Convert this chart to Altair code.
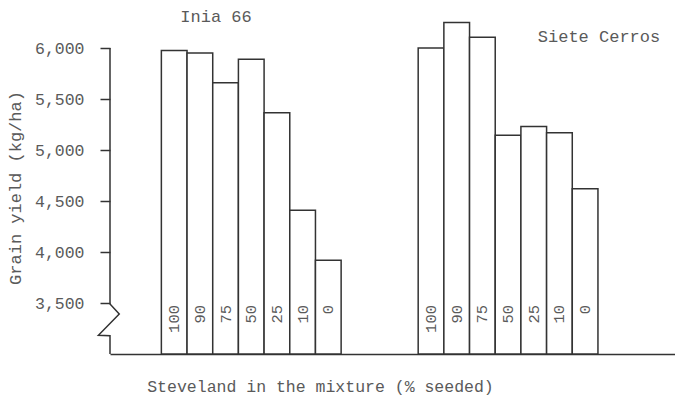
import altair as alt
import pandas as pd

# Grain yield (kg/ha) of two wheat varieties seeded in mixture with Steveland
varieties = ["Inia 66", "Siete Cerros"]
steveland_pct = ["100", "90", "75", "50", "25", "10", "0"]
inia_yield = [5975, 5950, 5660, 5890, 5365, 4410, 3920]
siete_yield = [6000, 6250, 6105, 5145, 5230, 5170, 4620]

# where each variety's block of bars starts on the slot axis (22 slots total)
group_start = [2, 12]
n_slots = 22

y_min, y_max = 3000, 6000
y_ticks = [3500, 4000, 4500, 5000, 5500, 6000]
label_anchor = 3500

# variety captions: name, slot position, yield level
caption_slot = [4.13, 19.04]
caption_level = [6304, 6111]

# broken y-axis: (slot, yield) vertices of the axis line with its zigzag
axis_x = [0, 0, 0.36, -0.45, 0, 0]
axis_y = [6000, 3490, 3393, 3183, 3180, 3000]

ink = "#333333"
text_ink = "#5a5a5a"
font = "Liberation Mono"

rows = []
for g, (name, ylds) in enumerate(zip(varieties, [inia_yield, siete_yield])):
    for i, (pct, v) in enumerate(zip(steveland_pct, ylds)):
        s = group_start[g] + i
        rows.append({"variety": name, "pct": pct, "yield": v,
                     "x0": s, "x1": s + 1, "xm": s + 0.5, "base": y_min})
bars_df = pd.DataFrame(rows)

cap_df = pd.DataFrame({"name": varieties, "x": caption_slot, "y": caption_level})
axis_df = pd.DataFrame({"x": axis_x, "y": axis_y, "o": list(range(len(axis_x)))})

x_scale = alt.Scale(domain=[0, n_slots], nice=False, zero=False)
y_scale = alt.Scale(domain=[y_min, y_max], nice=False, zero=False)

x_axis = alt.Axis(
    title="Steveland in the mixture (% seeded)", labels=False, ticks=False,
    grid=False, domain=True, domainColor=ink, domainWidth=1.5,
    titleFont=font, titleFontSize=16.5, titleFontWeight="normal", titleColor=text_ink,
    titleX=210, titleY=32, titleBaseline="middle", titleAlign="center",
)
y_axis = alt.Axis(
    title="Grain yield (kg/ha)", values=y_ticks,
    labelExpr="replace(format(datum.value, '.0f'), /(\\d)(\\d{3})$/, '$1,$2')",
    grid=False,
    domain=False, tickSize=10, tickColor=ink, tickWidth=1.5,
    labelFont=font, labelFontSize=16.5, labelColor=text_ink, labelPadding=16,
    titleFont=font, titleFontSize=17, titleFontWeight="normal", titleColor=text_ink,
    titleAngle=270, titleX=-95, titleY=139.5, titleAlign="center",
    titleBaseline="middle",
)

bars = alt.Chart(bars_df).mark_rect(
    fill="white", stroke=ink, strokeWidth=1.5
).encode(
    x=alt.X("x0:Q", scale=x_scale, axis=x_axis),
    x2="x1:Q",
    y=alt.Y("yield:Q", scale=y_scale, axis=y_axis),
    y2="base:Q",
)

pct_labels = alt.Chart(bars_df).mark_text(
    angle=270, align="right", baseline="middle", font=font, fontSize=15.5,
    color=text_ink, dx=-2,
).encode(
    x=alt.X("xm:Q", scale=x_scale),
    y=alt.datum(label_anchor),
    text="pct:N",
)

captions = alt.Chart(cap_df).mark_text(
    align="center", baseline="middle", font=font, fontSize=17, color=text_ink
).encode(
    x=alt.X("x:Q", scale=x_scale),
    y=alt.Y("y:Q", scale=y_scale),
    text="name:N",
)

y_line = alt.Chart(axis_df).mark_line(color=ink, strokeWidth=1.5).encode(
    x=alt.X("x:Q", scale=x_scale),
    y=alt.Y("y:Q", scale=y_scale),
    order="o:Q",
)

chart = alt.layer(bars, pct_labels, captions, y_line).properties(
    width=565, height=306,
    autosize=alt.AutoSizeParams(type="none"),
    padding={"left": 110, "top": 48, "right": 0, "bottom": 42},
    background="white",
).configure_view(stroke=None)

chart.save("out.html", embed_options={"renderer": "svg", "actions": False})
